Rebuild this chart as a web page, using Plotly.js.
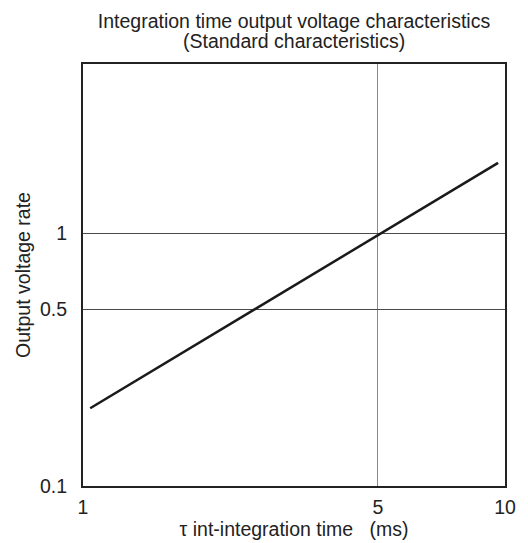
<!DOCTYPE html>
<html>
<head>
<meta charset="utf-8">
<script src="https://cdn.plot.ly/plotly-3.0.1.min.js"></script>
<style>
  html, body { margin: 0; padding: 0; background: #fff; }
  #chart { width: 528px; height: 543px; }
</style>
</head>
<body>
<div id="chart"></div>
<script>
// Integration time (ms) and output voltage rate
const integrationTime = [1.04, 9.63];
const outputRate = [0.203, 1.90];

const xTickVals = [1, 5, 10];
const xTickText = ['1', '5', '10'];
const yTickVals = [0.1, 0.5, 1];
const yTickText = ['0.1', '0.5', '1'];

const titleLine1 = 'Integration time output voltage characteristics';
const titleLine2 = '(Standard characteristics)';

const FONT = 'Liberation Sans, Arial, Helvetica, sans-serif';
const FS = 19.5;
const TXT = '#222';

const trace = {
  x: integrationTime,
  y: outputRate,
  type: 'scatter',
  mode: 'lines',
  line: { color: '#1a1a1a', width: 2.5 },
  hoverinfo: 'x+y',
  showlegend: false
};

const layout = {
  width: 528,
  height: 543,
  paper_bgcolor: '#ffffff',
  plot_bgcolor: '#ffffff',
  margin: { l: 83, r: 23, t: 64, b: 57, pad: 0 },
  font: { family: FONT, size: FS, color: TXT },
  title: {
    text: titleLine1,
    font: { family: FONT, size: FS, color: TXT },
    x: 0.5, xref: 'paper', xanchor: 'center',
    y: 1 - 21 / 543, yref: 'container', yanchor: 'middle'
  },
  annotations: [{
    text: titleLine2,
    font: { family: FONT, size: FS, color: TXT },
    xref: 'paper', x: 0.5, xanchor: 'center',
    yref: 'paper', y: 1, yanchor: 'middle',
    yshift: 23,
    showarrow: false
  }],
  xaxis: {
    type: 'log',
    range: [0, 1],
    tickvals: xTickVals,
    ticktext: xTickText,
    ticks: '',
    ticklabelstandoff: 3,
    showgrid: true,
    gridcolor: '#8a8a8a',
    gridwidth: 1,
    zeroline: false,
    showline: true,
    mirror: true,
    linecolor: '#222',
    linewidth: 2,
    tickfont: { family: FONT, size: FS, color: TXT },
    title: {
      text: '\u03c4 int-integration time\u00a0\u00a0\u00a0(ms)',
      font: { family: FONT, size: FS, color: TXT },
      standoff: 0
    }
  },
  yaxis: {
    type: 'log',
    range: [-1, 0.67],
    tickvals: yTickVals,
    ticktext: yTickText,
    ticks: '',
    ticklabelstandoff: 10,
    showgrid: true,
    gridcolor: '#4a4a4a',
    gridwidth: 1,
    zeroline: false,
    showline: true,
    mirror: true,
    linecolor: '#222',
    linewidth: 2,
    tickfont: { family: FONT, size: FS, color: TXT },
    title: {
      text: 'Output voltage rate',
      font: { family: FONT, size: FS, color: TXT },
      standoff: 4
    }
  }
};

Plotly.newPlot('chart', [trace], layout, { displayModeBar: false, staticPlot: true });
</script>
</body>
</html>
